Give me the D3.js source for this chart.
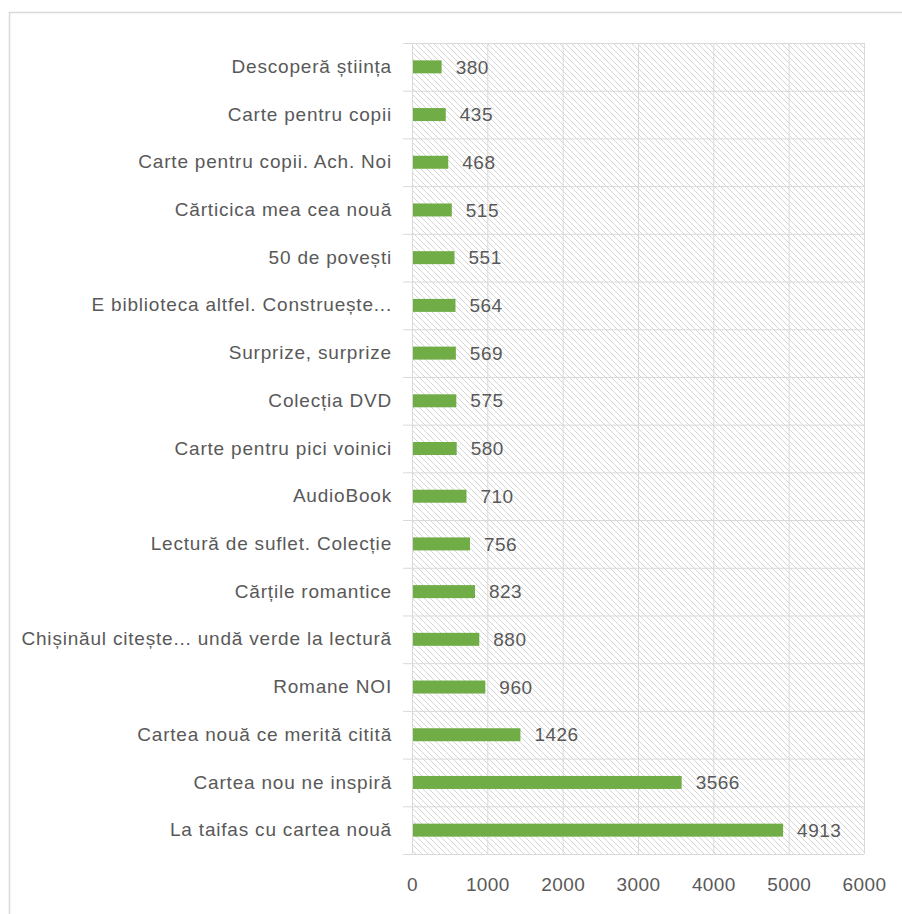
<!DOCTYPE html>
<html>
<head>
<meta charset="utf-8">
<script src="https://cdn.jsdelivr.net/npm/d3@7"></script>
<style>
  body { margin: 0; background: #fff; }
  text { font-family: "Liberation Sans Narrow", "Liberation Sans", Arial, sans-serif; fill: #595959; }
</style>
</head>
<body>
<div class="chart-box"></div>
<script>
// chart data
const categories = [
    "Descoperă știința",
    "Carte pentru copii",
    "Carte pentru copii. Ach. Noi",
    "Cărticica mea cea nouă",
    "50 de povești",
    "E biblioteca altfel. Construește...",
    "Surprize, surprize",
    "Colecția DVD",
    "Carte pentru pici voinici",
    "AudioBook",
    "Lectură de suflet. Colecție",
    "Cărțile romantice",
    "Chișinăul citește... undă verde la lectură",
    "Romane NOI",
    "Cartea nouă ce merită citită",
    "Cartea nou ne inspiră",
    "La taifas cu cartea nouă"
];
const values = [380, 435, 468, 515, 551, 564, 569, 575, 580, 710, 756, 823, 880, 960, 1426, 3566, 4913];
const xTicks = [0, 1000, 2000, 3000, 4000, 5000, 6000];

const drawChart = () => {
    const rows = categories.map((c, i) => ({ name: c, value: values[i] }));

    const svg = d3.select(".chart-box").append("svg")
        .attr("width", 902)
        .attr("height", 914);

    // outer frame
    svg.append("rect")
        .attr("x", 9.5).attr("y", 12.5)
        .attr("width", 1000).attr("height", 1000)
        .attr("fill", "none")
        .attr("stroke", "#d9d9d9")
        .attr("stroke-width", 1.5);

    // hatch pattern for the plot area
    const pat = svg.append("defs").append("pattern")
        .attr("id", "hatch")
        .attr("patternUnits", "userSpaceOnUse")
        .attr("width", 6).attr("height", 6);
    pat.append("path")
        .attr("d", "M-1,-1 L7,7 M-4,2 L1,7 M2,-4 L7,1")
        .attr("stroke", "#d6d6d6")
        .attr("stroke-width", 1);

    const left = 412, right = 864, top = 43, bottom = 854;

    const xScale = d3.scaleLinear().domain([0, 6000]).range([left, right]);
    const yScale = d3.scaleBand().domain(categories).range([top, bottom]).padding(0);
    const barH = 13;

    svg.append("rect")
        .attr("x", left).attr("y", top)
        .attr("width", right - left).attr("height", bottom - top)
        .attr("fill", "url(#hatch)");

    // vertical gridlines
    svg.append("g")
        .selectAll("line")
        .data(xTicks)
        .enter().append("line")
        .attr("x1", (d) => xScale(d) + 0.5).attr("x2", (d) => xScale(d) + 0.5)
        .attr("y1", top).attr("y2", bottom)
        .attr("stroke", "#d9d9d9");

    // horizontal row separators
    svg.append("g")
        .selectAll("line")
        .data(categories.concat(["__end"]))
        .enter().append("line")
        .attr("x1", left - 9).attr("x2", right)
        .attr("y1", (d) => (d === "__end" ? bottom : yScale(d)) + 0.5)
        .attr("y2", (d) => (d === "__end" ? bottom : yScale(d)) + 0.5)
        .attr("stroke", "#d9d9d9");

    // x axis labels
    const xAxis = svg.append("g")
        .attr("transform", "translate(0," + bottom + ")")
        .call(d3.axisBottom(xScale).tickValues(xTicks).tickSize(0).tickPadding(24).tickFormat(d3.format("d")));
    xAxis.select(".domain").remove();
    xAxis.selectAll("text")
        .attr("font-size", "19px")
        .attr("letter-spacing", "0.4px")
        .style("font-family", "\"Liberation Sans Narrow\", \"Liberation Sans\", Arial, sans-serif")
        .attr("fill", "#595959");

    // category labels
    const yAxis = svg.append("g")
        .attr("transform", "translate(" + left + ",0)")
        .call(d3.axisLeft(yScale).tickSize(0).tickPadding(20));
    yAxis.select(".domain").remove();
    yAxis.selectAll("text")
        .attr("font-size", "19px")
        .attr("letter-spacing", "0.8px")
        .style("font-family", "\"Liberation Sans Narrow\", \"Liberation Sans\", Arial, sans-serif")
        .attr("fill", "#595959");

    // bars
    svg.selectAll(".bar")
        .data(rows)
        .enter().append("rect")
        .attr("class", "bar")
        .attr("x", xScale(0) + 1)
        .attr("y", (d) => yScale(d.name) + yScale.bandwidth() / 2 - barH / 2)
        .attr("width", (d) => xScale(d.value) - xScale(0))
        .attr("height", barH)
        .attr("fill", "#70ad47");

    // value labels
    svg.selectAll(".val")
        .data(rows)
        .enter().append("text")
        .attr("class", "val")
        .attr("x", (d) => xScale(d.value) + 15)
        .attr("y", (d) => yScale(d.name) + yScale.bandwidth() / 2)
        .attr("dy", "0.35em")
        .attr("font-size", "19px")
        .attr("letter-spacing", "0.5px")
        .text((d) => d.value);
};

drawChart();
</script>
</body>
</html>
